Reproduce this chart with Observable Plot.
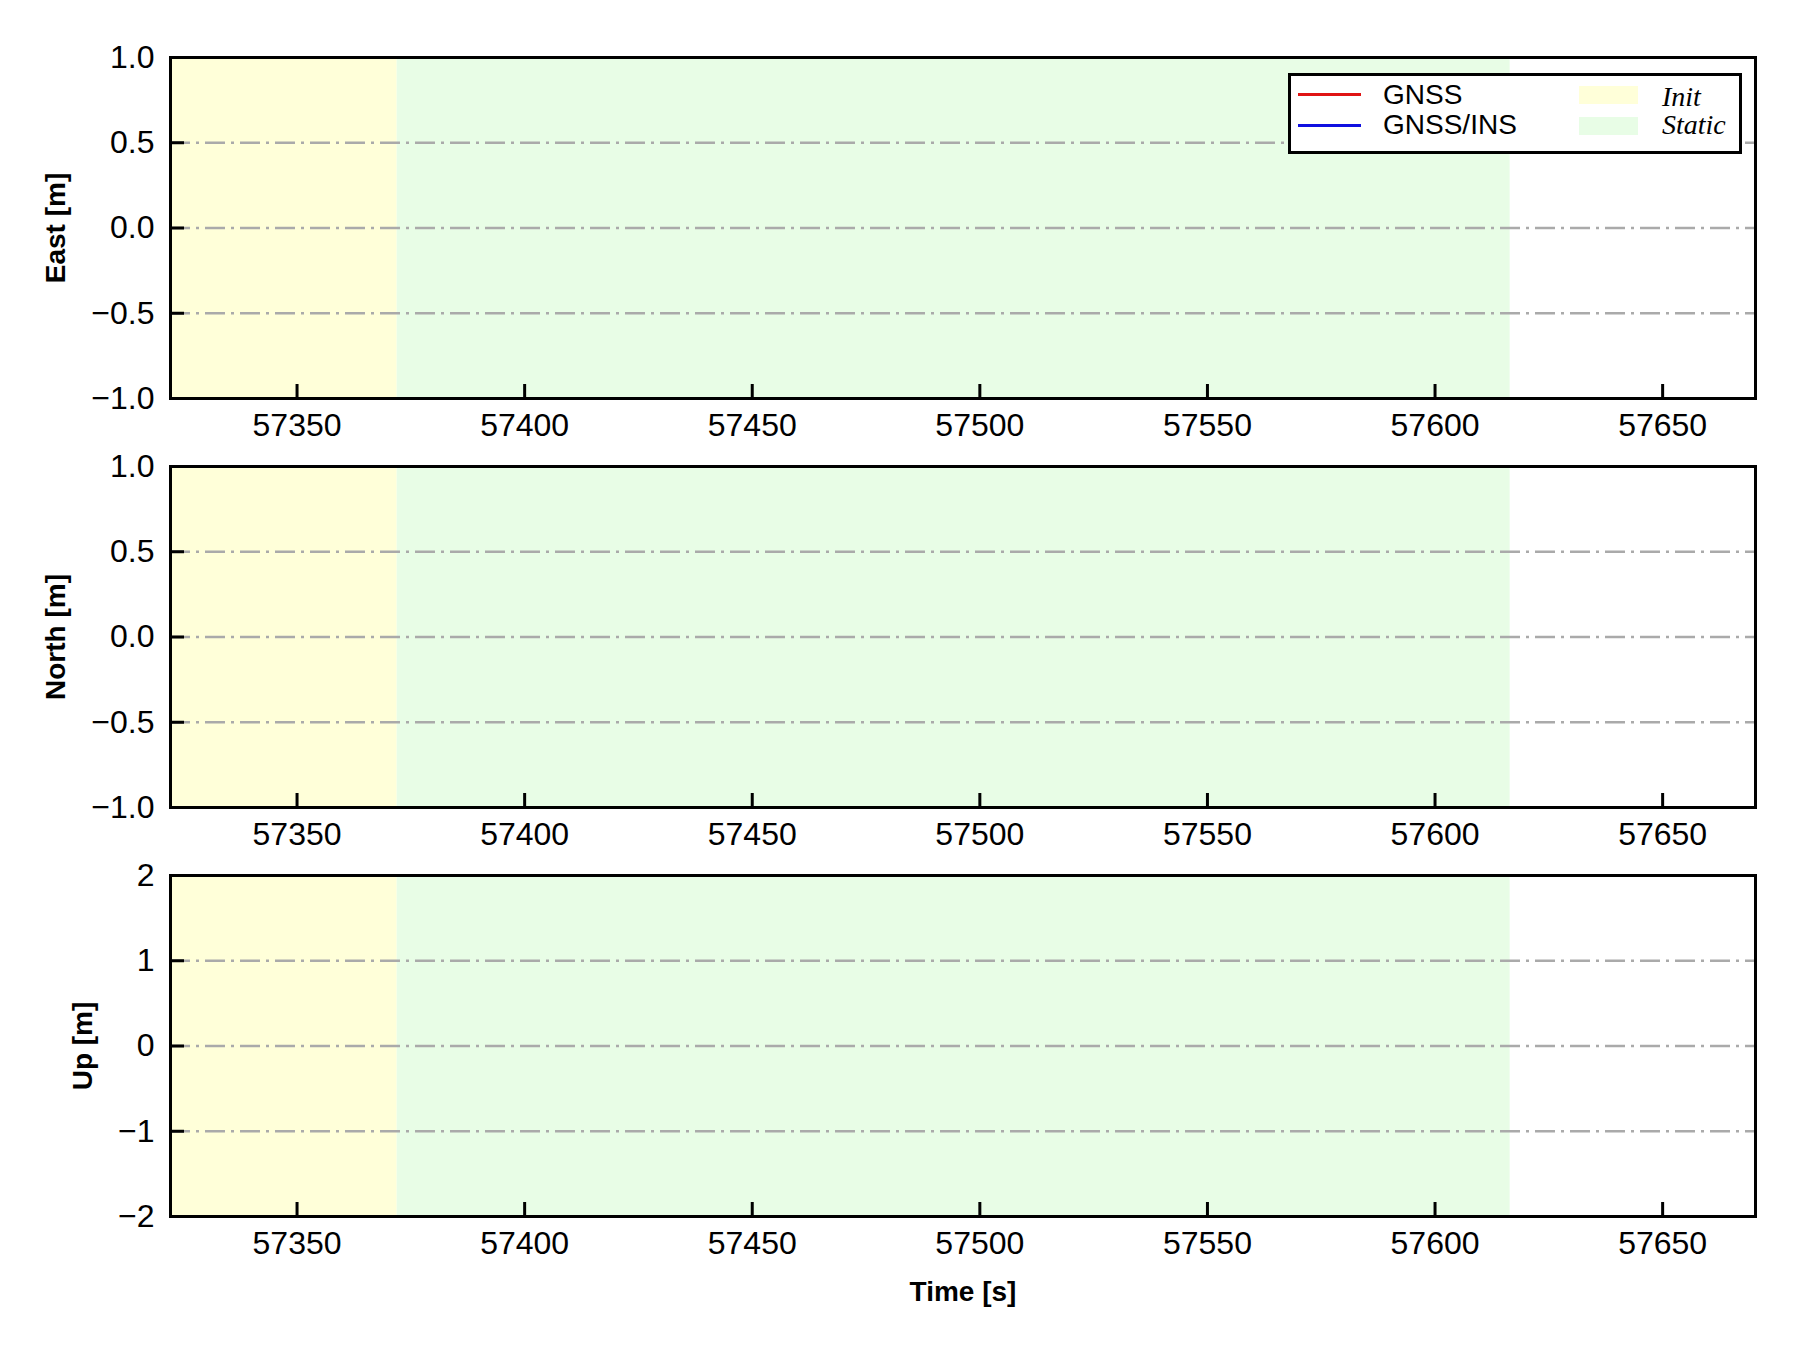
<!DOCTYPE html>
<html>
<head>
<meta charset="utf-8">
<script src="https://cdn.jsdelivr.net/npm/d3@7"></script>
<script src="https://cdn.jsdelivr.net/npm/@observablehq/plot@0.6"></script>
<style>
  html, body { margin: 0; padding: 0; background: #fff; }
  #wrap { position: relative; width: 1800px; height: 1350px; background: #fff; overflow: hidden; }
  .panel { position: absolute; left: 0; }
  #legend { position: absolute; left: 1288px; top: 73px; width: 454px; height: 81px; box-sizing: border-box;
            border: 3px solid #000; background: #fff; }
  #legend .ln { position: absolute; left: 7px; width: 63px; height: 3px; }
  #legend .tx { position: absolute; font-family: "Liberation Sans", Arial, sans-serif; font-size: 28px; line-height: 28px; color: #000; white-space: nowrap; }
  #legend .pt { position: absolute; left: 288px; width: 59px; height: 18px; }
  #legend .it { position: absolute; left: 371px; font-family: "Liberation Serif", "Times New Roman", serif; font-style: italic; font-size: 28px; line-height: 28px; color: #000; white-space: nowrap; }
</style>
</head>
<body>
<div id="wrap"></div>
<script>
// ---- data ----
const timeDomain = [57322.2, 57670.4];
const timeTicks = [57350, 57400, 57450, 57500, 57550, 57600, 57650];
const enDomain = [-1, 1];
const enTicks = [-1.0, -0.5, 0.0, 0.5, 1.0];
const upDomain = [-2, 2];
const upTicks = [-2, -1, 0, 1, 2];
const phaseNames = ["Init", "Static"];
const phaseStart = [57322.2, 57372.0];
const phaseEnd = [57372.0, 57616.5];
const phaseColors = ["#ffffd9", "#e8fde6"];
const seriesNames = ["GNSS", "GNSS/INS"];
const seriesColors = ["#e01414", "#1010e0"];
const panelLabels = ["East [m]", "North [m]", "Up [m]"];
// position-error series: no samples fall inside the plotted window
const gnssTime = [];
const gnssEast = [];
const gnssNorth = [];
const gnssUp = [];
const insTime = [];
const insEast = [];
const insNorth = [];
const insUp = [];

// ---- build ----
const phases = phaseNames.map((n, i) => ({name: n, x1: phaseStart[i], x2: phaseEnd[i], color: phaseColors[i]}));
const toRows = (t, v) => t.map((d, i) => ({t: d, v: v[i]}));

const W = 1800, ML = 170, MR = 45, MT = 20, PH = 341;
const PW = W - ML - MR;
const font = "'Liberation Sans', Arial, sans-serif";

function panel({label, domain, ticks, fmt, labelDx, gnss, ins, mb, xlabel}) {
  const marks = [
    Plot.rect(phases, {x1: "x1", x2: "x2", fill: "color"}),
    Plot.ruleY(ticks, {y: d => d, stroke: "#aaaaaa", strokeWidth: 2.5, strokeDasharray: "20,6,3,6"}),
    Plot.line(gnss, {x: "t", y: "v", stroke: seriesColors[0], strokeWidth: 2}),
    Plot.line(ins, {x: "t", y: "v", stroke: seriesColors[1], strokeWidth: 2}),
    Plot.tickX(timeTicks, {x: d => d, stroke: "#000", strokeWidth: 3, insetTop: PH - 14}),
    Plot.tickY(ticks, {y: d => d, stroke: "#000", strokeWidth: 3, insetRight: PW - 14}),
    Plot.axisX(timeTicks, {tickSize: 0, tickPadding: 15, tickFormat: d => String(d), fontSize: 32, label: null}),
    Plot.axisY(ticks, {tickSize: 0, tickPadding: 16, tickFormat: fmt, fontSize: 32, label: null}),
    Plot.text([label], {text: d => d, frameAnchor: "left", dx: labelDx, rotate: -90, fontWeight: "bold", fontSize: 28, textAnchor: "middle", lineAnchor: "middle"}),
    Plot.frame({stroke: "#000", strokeWidth: 3})
  ];
  if (xlabel) marks.push(Plot.text([xlabel], {text: d => d, frameAnchor: "bottom", dy: 76, fontWeight: "bold", fontSize: 28, textAnchor: "middle", lineAnchor: "middle"}));
  return Plot.plot({
    width: W, height: MT + PH + mb,
    marginLeft: ML, marginRight: MR, marginTop: MT, marginBottom: mb,
    style: {fontFamily: font, fontSize: "32px", color: "#000", background: "transparent", overflow: "visible"},
    x: {domain: timeDomain},
    y: {domain},
    marks
  });
}

const wrap = document.getElementById("wrap");
const defs = [
  {label: panelLabels[0], domain: enDomain, ticks: enTicks, fmt: d3.format(".1f"), labelDx: -114, gnss: toRows(gnssTime, gnssEast), ins: toRows(insTime, insEast), mb: 48, top: 37},
  {label: panelLabels[1], domain: enDomain, ticks: enTicks, fmt: d3.format(".1f"), labelDx: -114, gnss: toRows(gnssTime, gnssNorth), ins: toRows(insTime, insNorth), mb: 48, top: 446},
  {label: panelLabels[2], domain: upDomain, ticks: upTicks, fmt: d3.format("d"), labelDx: -87, gnss: toRows(gnssTime, gnssUp), ins: toRows(insTime, insUp), mb: 110, top: 855, xlabel: "Time [s]"}
];
for (const d of defs) {
  const div = document.createElement("div");
  div.className = "panel";
  div.style.top = d.top + "px";
  div.appendChild(panel(d));
  wrap.appendChild(div);
}

// legend (inside the top panel, upper right)
const lg = document.createElement("div");
lg.id = "legend";
const lineTops = [16.8, 48.2];
const textTops = [5.3, 34.8];
seriesNames.forEach((n, i) => {
  const l = document.createElement("div");
  l.className = "ln"; l.style.top = lineTops[i] + "px"; l.style.background = seriesColors[i];
  lg.appendChild(l);
  const t = document.createElement("div");
  t.className = "tx"; t.style.left = "92px"; t.style.top = textTops[i] + "px"; t.textContent = n;
  lg.appendChild(t);
});
const patchTops = [10, 40.5];
const itTops = [6.5, 34.8];
phases.forEach((p, i) => {
  const r = document.createElement("div");
  r.className = "pt"; r.style.top = patchTops[i] + "px"; r.style.background = p.color;
  lg.appendChild(r);
  const t = document.createElement("div");
  t.className = "it"; t.style.top = itTops[i] + "px"; t.textContent = p.name;
  lg.appendChild(t);
});
wrap.appendChild(lg);
</script>
</body>
</html>
